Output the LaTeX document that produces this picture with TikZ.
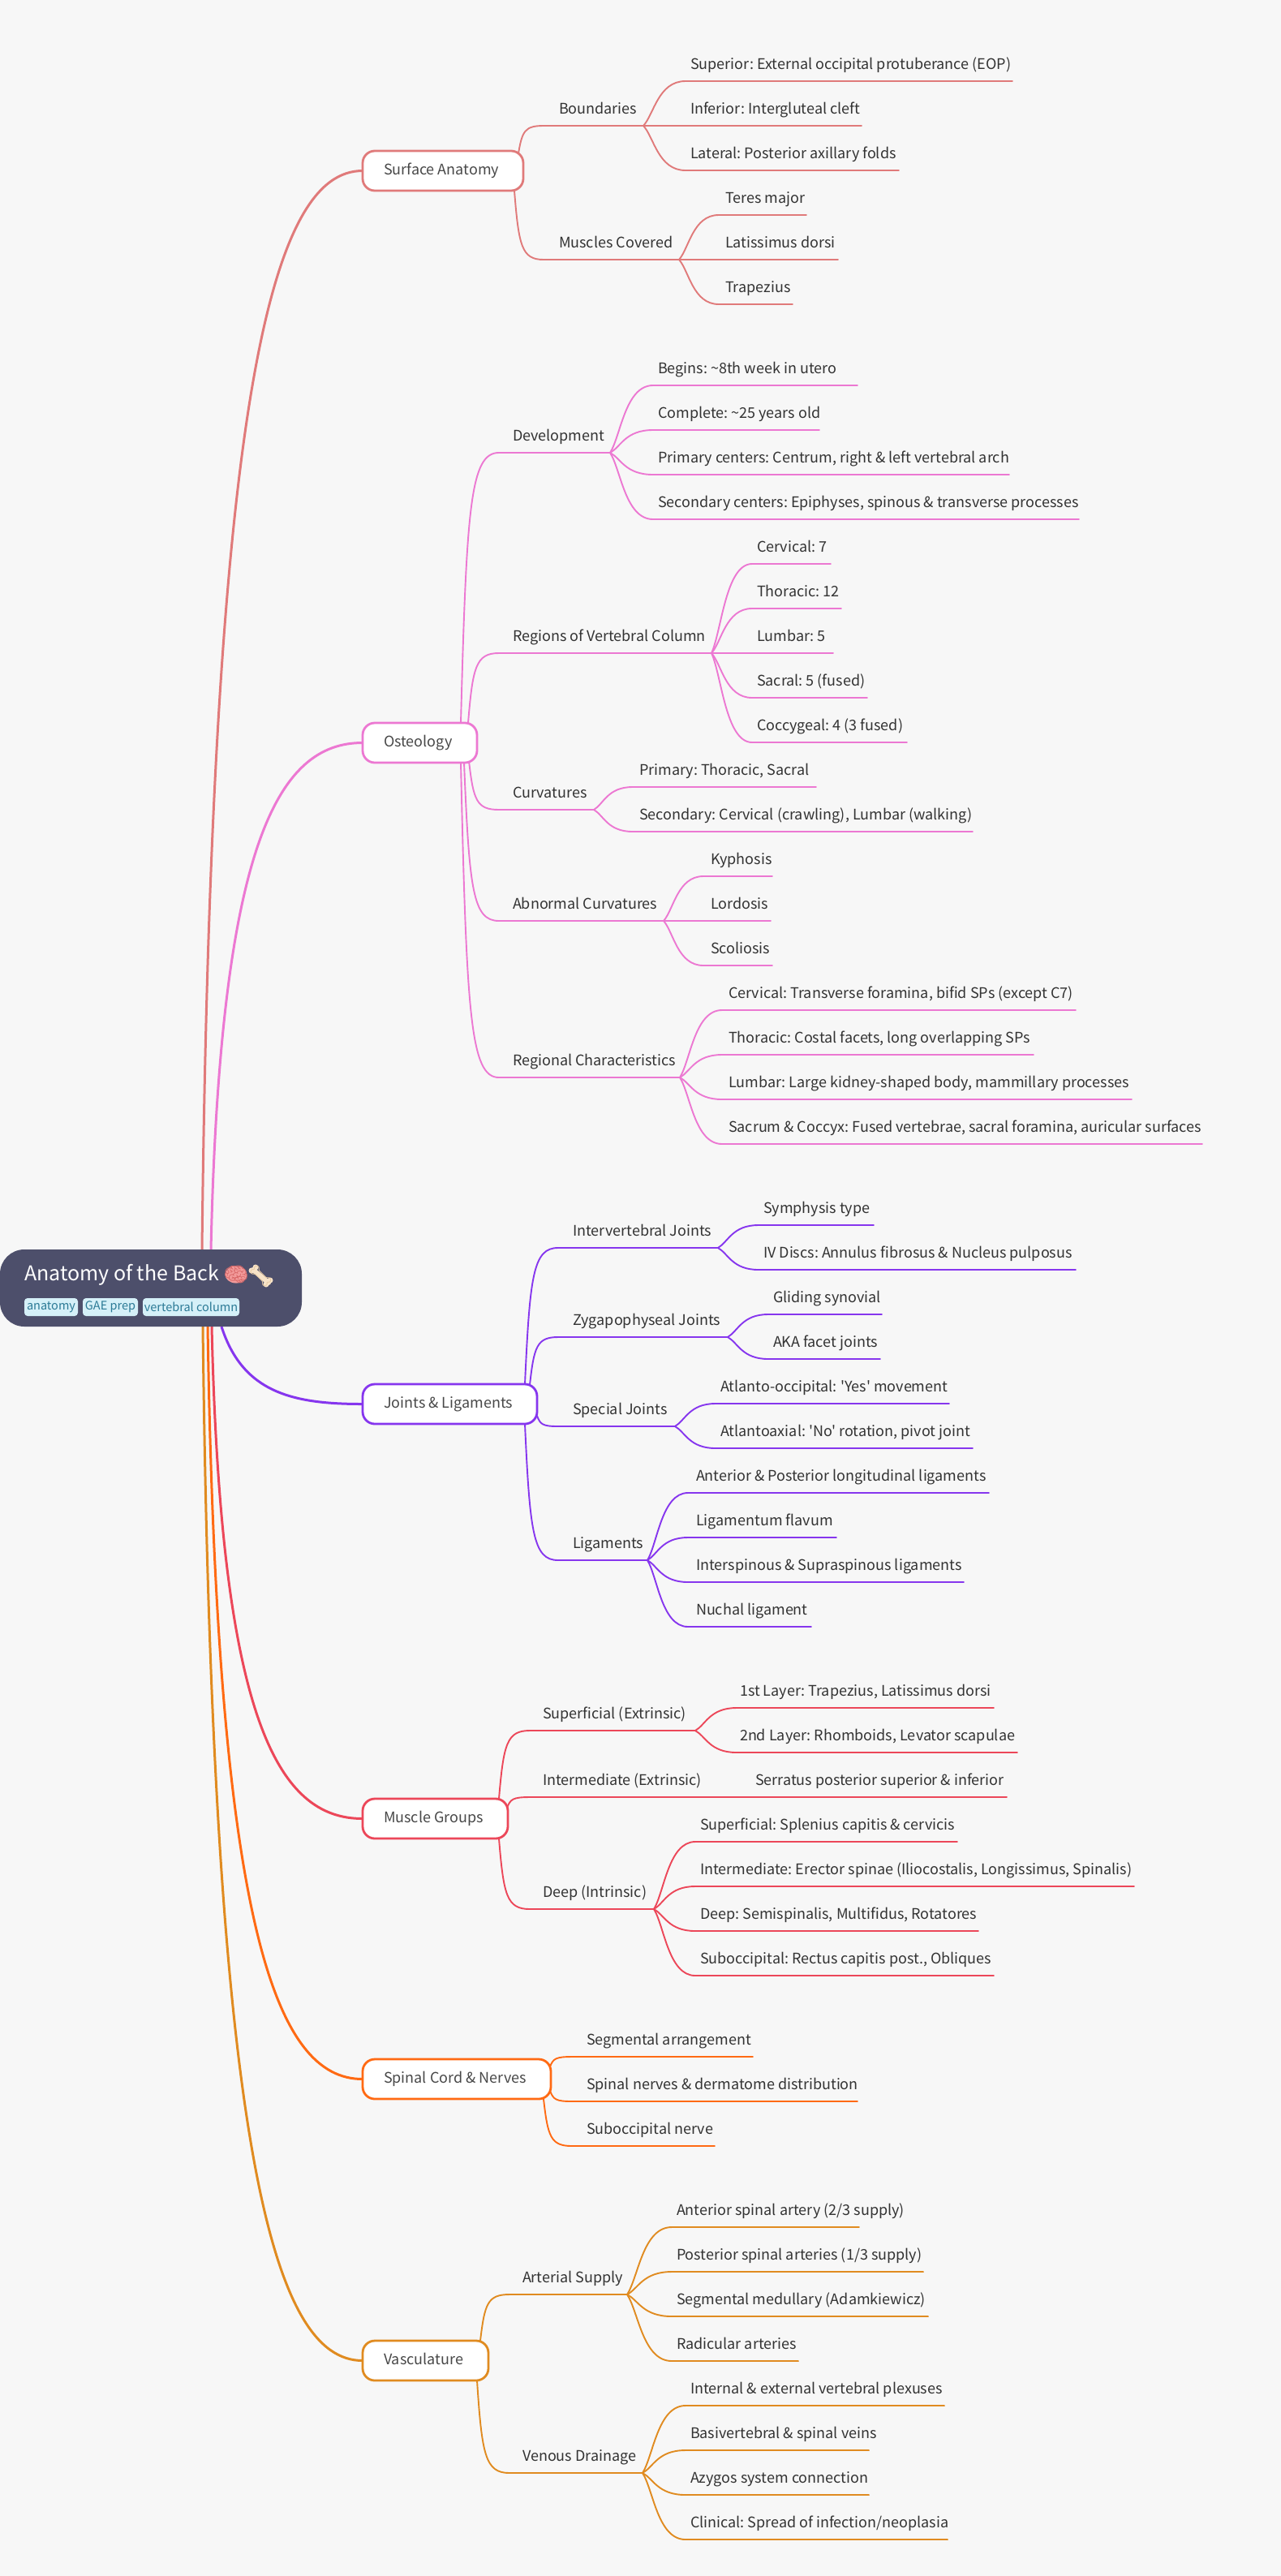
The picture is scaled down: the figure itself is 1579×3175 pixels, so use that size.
\documentclass[tikz,border=0pt]{standalone}
\usepackage{fontspec}
\usetikzlibrary{calc}
\newfontfamily\sh{Noto Sans CJK SC}
\newfontfamily\emo{Noto Emoji}
\frenchspacing
\pgfdeclarelayer{bg}
\pgfsetlayers{bg,main}
\definecolor{pageb}{HTML}{F7F7F7}
\definecolor{rootf}{HTML}{4D4F6B}
\definecolor{tagf}{HTML}{D5F0F8}
\definecolor{tagt}{HTML}{2B7A96}
\definecolor{leaft}{HTML}{333333}
\definecolor{mainT}{HTML}{484848}
\definecolor{cA}{HTML}{E07A7A}
\definecolor{cB}{HTML}{EC78D2}
\definecolor{cC}{HTML}{8636EE}
\definecolor{cD}{HTML}{EC4759}
\definecolor{cE}{HTML}{FF6A13}
\definecolor{cF}{HTML}{E08B20}
\definecolor{brainc}{HTML}{D96A6A}
\definecolor{brainf}{HTML}{F29A9A}
\definecolor{bonec}{HTML}{E8CBA4}
\definecolor{bonef}{HTML}{F7E3C8}
\tikzset{
 tn/.style={anchor=south west,inner sep=0pt,outer sep=0pt,text height=29pt,text depth=15pt,text=leaft,font=\sh\fontsize{18}{20}\selectfont},
 lone/.style={anchor=north west,inner sep=0pt,outer sep=0pt,fill=white,line width=2.8pt,rounded corners=15pt,text height=29pt,text depth=20pt,text=mainT,font=\sh\fontsize{18}{20}\selectfont},
 rootbox/.style={anchor=north west,inner sep=0pt,outer sep=0pt,fill=rootf,rounded corners=30pt,text height=38pt,text depth=57pt,text=white,font=\sh\fontsize{25}{28}\selectfont},
 tagbox/.style={anchor=north west,inner sep=0pt,outer sep=0pt,fill=tagf,rounded corners=4pt,minimum height=22pt,text=tagt,font=\sh\fontsize{14.5}{16}\selectfont},
 emobox/.style={inner sep=0pt,outer sep=0pt,font=\emo\fontsize{25}{28}\selectfont},
 lk/.style={line width=1.9pt,line cap=round},
 rk/.style={line width=3pt}
}
\newcommand\tnode[6]{\node[tn] (#1) at (#2,#4) {\makebox[\dimexpr #3pt-#2pt\relax][l]{\hspace*{\dimexpr #5pt-#2pt\relax}#6}};}
\newcommand\lnode[5]{\node[lone,draw=#5] (#1) at (447,#3) {\makebox[\dimexpr #2pt-447pt\relax][l]{\hspace*{26pt}#4}};}
\newcommand\leafc[3]{\draw[lk,#3] let \p1=(#1.south east),\p2=(#2.south west) in (\p1) .. controls ({\x1+.25*(\x2-\x1)},{\y1+.25*(\y2-\y1)}) and ({\x1+.35*(\x2-\x1)},\y2) .. (\p2) -- (#2.south east);}
\newcommand\mainc[3]{\draw[lk,#3] let \p1=(#1),\p2=(#2.south west) in (\p1) .. controls ({\x1+.15*(\x2-\x1)},{\y1+.8*(\y2-\y1)}) and ({\x1+.25*(\x2-\x1)},\y2) .. (\p2) -- (#2.south east);}
\newcommand\rootc[3]{\draw[rk,#3] let \p1=(#1),\p2=(#2.west) in (\p1) .. controls ({\x1+.06*(\x2-\x1)},{\y1+.8*(\y2-\y1)}) and ({\x1+.44*(\x2-\x1)},\y2) .. (\p2);}
\newcommand\rootj[3]{\draw[rk,#3] let \p1=(#1),\p2=(#2.west) in (\p1) .. controls ({\x1+.15*(\x2-\x1)},{\y1+.85*(\y2-\y1)}) and ({\x1+.5*(\x2-\x1)},\y2) .. (\p2);}
\begin{document}
\begin{tikzpicture}[x=1pt,y=-1pt]
\begin{pgfonlayer}{bg}
\fill[pageb] (0,0) rectangle (1579,3175);
\end{pgfonlayer}
\useasboundingbox (0,0) rectangle (1579,3175);
% root
\node[rootbox,minimum width=372pt] (root) at (0,1540) {\makebox[372pt][l]{\hspace*{30pt}Anatomy of the Back}};
\fill[brainf] (291,1571) ellipse (13.5pt and 10.5pt);
\draw[bonef,line width=6pt,line cap=round] (312,1565) -- (331,1581);
\fill[bonef] (310,1566) circle (3.5pt) (315,1562) circle (3.5pt) (328,1583) circle (3.5pt) (333,1578) circle (3.5pt);
\node[emobox,text=brainc] (brain) at (291,1571) {🧠};
\node[emobox,text=bonec] (bone) at (321.5,1572.5) {🦴};
\node[tagbox,minimum width=66pt] (tagA) at (30,1600) {anatomy};
\node[tagbox,minimum width=68pt] (tagB) at (102,1600) {GAE prep};
\node[tagbox,minimum width=119pt] (tagC) at (176,1600) {vertebral column};
% level 1
\lnode{surf}{645}{186}{Surface Anatomy}{cA}
\lnode{oste}{588}{891}{Osteology}{cB}
\lnode{join}{662}{1706}{Joints \& Ligaments}{cC}
\lnode{musc}{626}{2217}{Muscle Groups}{cD}
\lnode{spin}{679}{2538}{Spinal Cord \& Nerves}{cE}
\lnode{vasc}{602}{2885}{Vasculature}{cF}
% Surface
\tnode{aB}{670}{793}{155}{689}{Boundaries}
\tnode{aBa}{845}{1248}{100}{851}{Superior: External occipital protuberance (EOP)}
\tnode{aBb}{845}{1062}{155}{851}{Inferior: Intergluteal cleft}
\tnode{aBc}{845}{1108}{210}{851}{Lateral: Posterior axillary folds}
\tnode{aM}{670}{837}{320}{689}{Muscles Covered}
\tnode{aMa}{886}{994}{265}{894}{Teres major}
\tnode{aMb}{886}{1033}{320}{894}{Latissimus dorsi}
\tnode{aMc}{886}{977}{375}{894}{Trapezius}
% Osteology
\tnode{bD}{615}{752}{558}{632}{Development}
\tnode{bDa}{805}{1057}{475}{811}{Begins: \textasciitilde 8th week in utero}
\tnode{bDb}{805}{1010}{530}{811}{Complete: \textasciitilde 25 years old}
\tnode{bDc}{805}{1244}{585}{811}{Primary centers: Centrum, right \& left vertebral arch}
\tnode{bDd}{805}{1330}{640}{811}{Secondary centers: Epiphyses, spinous \& transverse processes}
\tnode{bR}{615}{877}{805}{632}{Regions of Vertebral Column}
\tnode{bRa}{927}{1024}{695}{933}{Cervical: 7}
\tnode{bRb}{927}{1037}{750}{933}{Thoracic: 12}
\tnode{bRc}{927}{1027}{805}{933}{Lumbar: 5}
\tnode{bRd}{927}{1069}{860}{933}{Sacral: 5 (fused)}
\tnode{bRe}{927}{1118}{915}{933}{Coccygeal: 4 (3 fused)}
\tnode{bC}{615}{732}{998}{632}{Curvatures}
\tnode{bCa}{780}{1006}{970}{788}{Primary: Thoracic, Sacral}
\tnode{bCb}{780}{1199}{1025}{788}{Secondary: Cervical (crawling), Lumbar (walking)}
\tnode{bA}{615}{818}{1135}{632}{Abnormal Curvatures}
\tnode{bAa}{867}{952}{1080}{876}{Kyphosis}
\tnode{bAb}{867}{950}{1135}{876}{Lordosis}
\tnode{bAc}{867}{952}{1190}{876}{Scoliosis}
\tnode{bG}{615}{838}{1328}{632}{Regional Characteristics}
\tnode{bGa}{890}{1326}{1245}{898}{Cervical: Transverse foramina, bifid SPs (except C7)}
\tnode{bGb}{890}{1274}{1300}{898}{Thoracic: Costal facets, long overlapping SPs}
\tnode{bGc}{890}{1395}{1355}{898}{Lumbar: Large kidney-shaped body, mammillary processes}
\tnode{bGd}{890}{1482}{1410}{898}{Sacrum \& Coccyx: Fused vertebrae, sacral foramina, auricular surfaces}
% Joints
\tnode{cI}{688}{885}{1538}{706}{Intervertebral Joints}
\tnode{cIa}{935}{1077}{1510}{941}{Symphysis type}
\tnode{cIb}{935}{1326}{1565}{941}{IV Discs: Annulus fibrosus \& Nucleus pulposus}
\tnode{cZ}{688}{897}{1648}{706}{Zygapophyseal Joints}
\tnode{cZa}{947}{1087}{1620}{953}{Gliding synovial}
\tnode{cZb}{947}{1085}{1675}{953}{AKA facet joints}
\tnode{cS}{688}{832}{1758}{706}{Special Joints}
\tnode{cSa}{882}{1170}{1730}{888}{Atlanto-occipital: 'Yes' movement}
\tnode{cSb}{882}{1199}{1785}{888}{Atlantoaxial: 'No' rotation, pivot joint}
\tnode{cL}{688}{798}{1923}{706}{Ligaments}
\tnode{cLa}{848}{1219}{1840}{858}{Anterior \& Posterior longitudinal ligaments}
\tnode{cLb}{848}{1031}{1895}{858}{Ligamentum flavum}
\tnode{cLc}{848}{1188}{1950}{858}{Interspinous \& Supraspinous ligaments}
\tnode{cLd}{848}{1000}{2005}{858}{Nuchal ligament}
% Muscles
\tnode{dS}{653}{857}{2133}{669}{Superficial (Extrinsic)}
\tnode{dSa}{908}{1225}{2105}{912}{1st Layer: Trapezius, Latissimus dorsi}
\tnode{dSb}{908}{1254}{2160}{912}{2nd Layer: Rhomboids, Levator scapulae}
\tnode{dI}{653}{925}{2215}{669}{Intermediate (Extrinsic)}
\tnode{dIa}{925}{1241}{2215}{931}{Serratus posterior superior \& inferior}
\tnode{dD}{653}{806}{2353}{669}{Deep (Intrinsic)}
\tnode{dDa}{857}{1180}{2270}{863}{Superficial: Splenius capitis \& cervicis}
\tnode{dDb}{857}{1398}{2325}{863}{Intermediate: Erector spinae (Iliocostalis, Longissimus, Spinalis)}
\tnode{dDc}{857}{1206}{2380}{863}{Deep: Semispinalis, Multifidus, Rotatores}
\tnode{dDd}{857}{1225}{2435}{863}{Suboccipital: Rectus capitis post., Obliques}
% Spinal
\tnode{eA}{705}{928}{2535}{723}{Segmental arrangement}
\tnode{eB}{705}{1057}{2590}{723}{Spinal nerves \& dermatome distribution}
\tnode{eC}{705}{881}{2645}{723}{Suboccipital nerve}
% Vasculature
\tnode{fA}{628}{773}{2828}{644}{Arterial Supply}
\tnode{fAa}{828}{1059}{2745}{834}{Anterior spinal artery (2/3 supply)}
\tnode{fAb}{828}{1138}{2800}{834}{Posterior spinal arteries (1/3 supply)}
\tnode{fAc}{828}{1144}{2855}{834}{Segmental medullary (Adamkiewicz)}
\tnode{fAd}{828}{984}{2910}{834}{Radicular arteries}
\tnode{fV}{628}{792}{3048}{644}{Venous Drainage}
\tnode{fVa}{845}{1164}{2965}{851}{Internal \& external vertebral plexuses}
\tnode{fVb}{845}{1071}{3020}{851}{Basivertebral \& spinal veins}
\tnode{fVc}{845}{1071}{3075}{851}{Azygos system connection}
\tnode{fVd}{845}{1168}{3130}{851}{Clinical: Spread of infection/neoplasia}
\begin{pgfonlayer}{bg}
% root branches
\rootc{$(root.north west)+(249,0)$}{surf}{cA}
\rootc{$(root.north west)+(260,0)$}{oste}{cB}
\rootj{$(root.south west)+(273,0)$}{join}{cC}
\rootc{$(root.south west)+(261,0)$}{musc}{cD}
\rootc{$(root.south west)+(256,0)$}{spin}{cE}
\rootc{$(root.south west)+(250,0)$}{vasc}{cF}
% level 1 to 2
\mainc{$(surf.north east)+(-6,3)$}{aB}{cA}
\mainc{$(surf.south east)+(-11,0)$}{aM}{cA}
\mainc{$(oste.north east)+(-20,0)$}{bD}{cB}
\mainc{$(oste.north east)+(-11,0)$}{bR}{cB}
\mainc{$(oste.south east)+(-10,-2)$}{bC}{cB}
\mainc{$(oste.south east)+(-16,0)$}{bA}{cB}
\mainc{$(oste.south east)+(-20,0)$}{bG}{cB}
\mainc{$(join.north east)+(-15,0)$}{cI}{cC}
\mainc{$(join.north east)+(-9,1)$}{cZ}{cC}
\mainc{$(join.south east)+(0,-10)$}{cS}{cC}
\mainc{$(join.south east)+(-15,0)$}{cL}{cC}
\mainc{$(musc.north east)+(-11,0)$}{dS}{cD}
\mainc{$(musc.north east)+(-1,11)$}{dI}{cD}
\mainc{$(musc.south east)+(-11,0)$}{dD}{cD}
\mainc{$(spin.north east)+(-1,9)$}{eA}{cE}
\mainc{$(spin.south east)+(-1,-10)$}{eB}{cE}
\mainc{$(spin.south east)+(-9,0)$}{eC}{cE}
\mainc{$(vasc.north east)+(-10,0)$}{fA}{cF}
\mainc{$(vasc.south east)+(-14,0)$}{fV}{cF}
% level 2 to leaves
\leafc{aB}{aBa}{cA}\leafc{aB}{aBb}{cA}\leafc{aB}{aBc}{cA}
\leafc{aM}{aMa}{cA}\leafc{aM}{aMb}{cA}\leafc{aM}{aMc}{cA}
\leafc{bD}{bDa}{cB}\leafc{bD}{bDb}{cB}\leafc{bD}{bDc}{cB}\leafc{bD}{bDd}{cB}
\leafc{bR}{bRa}{cB}\leafc{bR}{bRb}{cB}\leafc{bR}{bRc}{cB}\leafc{bR}{bRd}{cB}\leafc{bR}{bRe}{cB}
\leafc{bC}{bCa}{cB}\leafc{bC}{bCb}{cB}
\leafc{bA}{bAa}{cB}\leafc{bA}{bAb}{cB}\leafc{bA}{bAc}{cB}
\leafc{bG}{bGa}{cB}\leafc{bG}{bGb}{cB}\leafc{bG}{bGc}{cB}\leafc{bG}{bGd}{cB}
\leafc{cI}{cIa}{cC}\leafc{cI}{cIb}{cC}
\leafc{cZ}{cZa}{cC}\leafc{cZ}{cZb}{cC}
\leafc{cS}{cSa}{cC}\leafc{cS}{cSb}{cC}
\leafc{cL}{cLa}{cC}\leafc{cL}{cLb}{cC}\leafc{cL}{cLc}{cC}\leafc{cL}{cLd}{cC}
\leafc{dS}{dSa}{cD}\leafc{dS}{dSb}{cD}
\leafc{dI}{dIa}{cD}
\leafc{dD}{dDa}{cD}\leafc{dD}{dDb}{cD}\leafc{dD}{dDc}{cD}\leafc{dD}{dDd}{cD}
\leafc{fA}{fAa}{cF}\leafc{fA}{fAb}{cF}\leafc{fA}{fAc}{cF}\leafc{fA}{fAd}{cF}
\leafc{fV}{fVa}{cF}\leafc{fV}{fVb}{cF}\leafc{fV}{fVc}{cF}\leafc{fV}{fVd}{cF}
\end{pgfonlayer}
\end{tikzpicture}
\end{document}
